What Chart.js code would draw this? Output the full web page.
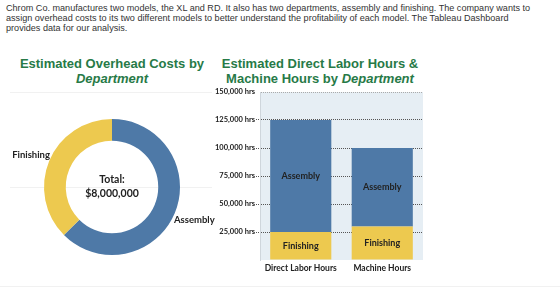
<!DOCTYPE html>
<html>
<head>
<meta charset="utf-8">
<script src="https://cdn.jsdelivr.net/npm/chart.js@4"></script>
<style>
  body { margin: 0; background: #fff; width: 560px; height: 291px; position: relative; overflow: hidden; font-family: "Liberation Sans", Arial, sans-serif; }
  .intro { position: absolute; left: 6px; top: 3px; white-space: nowrap; font-size: 9.1px; line-height: 10px; color: #333; }
  .title { position: absolute; top: 56px; font-size: 13px; line-height: 15px; font-weight: bold; color: #277a47; text-align: center; }
  .title i { font-style: italic; }
  .rule { position: absolute; height: 1px; background: #f1f1f1; }
  canvas { position: absolute; }
</style>
</head>
<body>
<div class="intro">Chrom Co. manufactures two models, the XL and RD. It also has two departments, assembly and finishing. The company wants to<br>assign overhead costs to its two different models to better understand the profitability of each model. The Tableau Dashboard<br>provides data for our analysis.</div>
<div class="title" style="left:2px; width:220px;">Estimated Overhead Costs by<br><i>Department</i></div>
<div class="title" style="left:212px; width:216px;">Estimated Direct Labor Hours &amp;<br>Machine Hours by <i>Department</i></div>
<div class="rule" style="left:10px; top:92px; width:202px;"></div>
<div class="rule" style="left:10px; top:187px; width:202px;"></div>
<div class="rule" style="left:0; top:286px; width:560px;"></div>
<canvas id="overheadChart" width="224" height="164" style="left:0; top:105px;"></canvas>
<canvas id="hoursChart" width="230" height="195" style="left:200px; top:85px;"></canvas>
<script>
// overhead costs by department
const departments = ['Assembly', 'Finishing'];
const overheadCosts = [5000000, 3000000];
const totalLabel = ['Total:', '$8,000,000'];

// hours by department
const hourCategories = ['Direct Labor Hours', 'Machine Hours'];
const finishingHours = [25000, 30000];
const assemblyHours = [100000, 70000];
const hourTicks = [0, 25000, 50000, 75000, 100000, 125000, 150000];

const blue = '#4e79a7';
const yellow = '#edc94f';
const labelFont = 'bold 9px Lato, "Liberation Sans", sans-serif';

// labels outside the ring + total in the middle
const doughnutLabels = {
  id: 'doughnutLabels',
  afterDraw(chart) {
    const ctx = chart.ctx;
    const arcs = chart.getDatasetMeta(0).data;
    ctx.save();
    ctx.fillStyle = '#222';
    ctx.font = 'bold 9.5px Lato, "Liberation Sans", sans-serif';
    ctx.textBaseline = 'middle';
    arcs.forEach((arc, i) => {
      // tableau puts the label a little past the middle of the slice
      const mid = (arc.startAngle + arc.endAngle) / 2 + 0.09;
      const r = arc.outerRadius + 2;
      const x = arc.x + Math.cos(mid) * r;
      const y = arc.y + Math.sin(mid) * r;
      ctx.textAlign = Math.cos(mid) >= 0 ? 'left' : 'right';
      ctx.fillText(departments[i], x, y);
    });
    const c = arcs[0];
    ctx.textAlign = 'center';
    ctx.font = 'bold 10.5px Lato, sans-serif';
    ctx.fillText(totalLabel[0], c.x, c.y - 7);
    ctx.fillText(totalLabel[1], c.x, c.y + 7);
    ctx.restore();
  }
};

new Chart(document.getElementById('overheadChart'), {
  type: 'doughnut',
  data: {
    labels: departments,
    datasets: [{
      data: overheadCosts,
      backgroundColor: [blue, yellow],
      borderWidth: 0,
    }],
  },
  options: {
    responsive: false,
    animation: false,
    cutout: '68%',
    layout: { padding: { left: 44, right: 44, top: 14, bottom: 14 } },
    plugins: { legend: { display: false }, tooltip: { enabled: false } },
  },
  plugins: [doughnutLabels],
});

// light blue plot background + segment labels
const barExtras = {
  id: 'barExtras',
  beforeDraw(chart) {
    const a = chart.chartArea;
    chart.ctx.save();
    chart.ctx.fillStyle = '#e6eef4';
    chart.ctx.fillRect(a.left, a.top, a.right - a.left, a.bottom - a.top);
    chart.ctx.restore();
  },
  afterDatasetsDraw(chart) {
    const ctx = chart.ctx;
    ctx.save();
    ctx.fillStyle = '#222';
    ctx.font = labelFont;
    ctx.textAlign = 'center';
    ctx.textBaseline = 'middle';
    chart.data.datasets.forEach((ds, di) => {
      chart.getDatasetMeta(di).data.forEach((bar) => {
        ctx.fillText(ds.label, bar.x, (bar.y + bar.base) / 2);
      });
    });
    ctx.restore();
  }
};

new Chart(document.getElementById('hoursChart'), {
  type: 'bar',
  data: {
    labels: hourCategories,
    datasets: [
      { label: 'Finishing', data: finishingHours, backgroundColor: yellow },
      { label: 'Assembly', data: assemblyHours, backgroundColor: blue },
    ],
  },
  options: {
    responsive: false,
    animation: false,
    layout: { padding: { top: 7, right: 7 } },
    datasets: { bar: { categoryPercentage: 0.75, barPercentage: 1 } },
    scales: {
      x: {
        stacked: true,
        grid: { display: false, drawTicks: false },
        border: { display: false },
        ticks: { color: '#222', font: { weight: 'bold', size: 8.5, family: 'Lato' }, padding: 3 },
        afterFit: (scale) => { scale.height = 20; },
      },
      y: {
        stacked: true,
        min: hourTicks[0],
        max: hourTicks[hourTicks.length - 1],
        afterBuildTicks: (scale) => { scale.ticks = hourTicks.map((v) => ({ value: v })); },
        grid: {
          color: (c) => c.tick.value === 0 ? 'rgba(0,0,0,0)' : (c.tick.value === 150000 ? '#aaa' : '#555'),
          tickColor: (c) => (c.tick.value === 0 || c.tick.value === 150000) ? 'rgba(0,0,0,0)' : '#555',
          tickLength: 4,
          tickBorderDash: [1, 1],
        },
        border: { color: '#cfd6dc', dash: [1, 1] },
        ticks: {
          color: '#222',
          font: { weight: 'bold', size: 7.5, family: 'Lato' },
          padding: 1,
          callback: (v) => v === 0 ? '' : v.toLocaleString('en-US') + ' hrs',
        },
        afterFit: (scale) => { scale.width = 60; },
      },
    },
    plugins: { legend: { display: false }, tooltip: { enabled: false } },
  },
  plugins: [barExtras],
});
</script>
</body>
</html>
